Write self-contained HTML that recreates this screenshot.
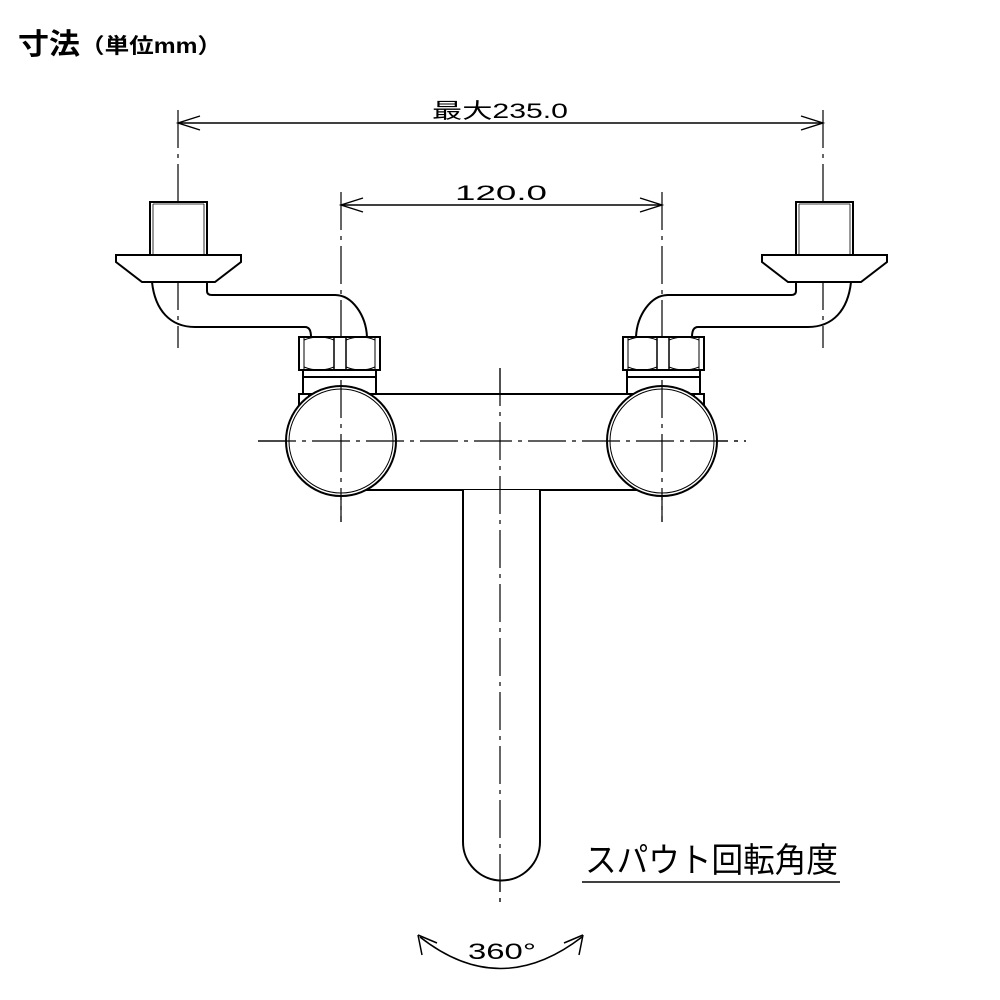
<!DOCTYPE html>
<html><head><meta charset="utf-8"><style>
html,body{margin:0;padding:0;background:#fff;width:1000px;height:1000px;overflow:hidden}
</style></head><body>
<svg width="1000" height="1000" viewBox="0 0 1000 1000" xmlns="http://www.w3.org/2000/svg" style="font-family:'Liberation Sans','Noto Sans CJK JP',sans-serif">
<text x="18" y="54" font-size="29" font-weight="bold" fill="#000" textLength="62" lengthAdjust="spacingAndGlyphs">寸法</text>
<text x="80" y="53" font-size="21" font-weight="bold" fill="#000" textLength="142" lengthAdjust="spacingAndGlyphs">（単位mm）</text>

<g fill="none" stroke="#000" stroke-width="1.4">
<line x1="178" y1="123" x2="823" y2="123"/>
<path d="M200 116 L178 123 L200 130 M801 116 L823 123 L801 130"/>
<line x1="341" y1="205" x2="662" y2="205"/>
<path d="M363 198 L341 205 L363 212 M640 198 L662 205 L640 212"/>
</g>
<text x="432" y="118" font-size="21" textLength="136" lengthAdjust="spacingAndGlyphs" fill="#000">最大235.0</text>
<text x="455" y="200" font-size="21" textLength="92" lengthAdjust="spacingAndGlyphs" fill="#000">120.0</text>

<g stroke="#000" stroke-width="1.2" stroke-dasharray="38,6,4,6" fill="none">
<line x1="178" y1="110" x2="178" y2="348"/>
<line x1="823" y1="110" x2="823" y2="348"/>
<line x1="341" y1="192" x2="341" y2="522"/>
<line x1="662" y1="192" x2="662" y2="522"/>
<line x1="258" y1="441" x2="746" y2="441"/>
<line x1="500" y1="368" x2="500" y2="908"/>
</g>

<g id="fx" fill="none" stroke="#000" stroke-width="2">
<rect x="150" y="202" width="57" height="53" fill="#fff"/>
<line x1="153" y1="204" x2="204" y2="204" stroke-width="0.8"/>
<line x1="153" y1="204" x2="153" y2="255" stroke-width="0.8"/>
<line x1="204" y1="204" x2="204" y2="255" stroke-width="0.8"/>
<path d="M116 255 L241 255 L241 262 L215 282 L142 282 L116 262 Z" fill="#fff"/>
<path d="M152 282 C155 310 170 327 195 327 L305 327 Q311 327 311 337"/>
<path d="M207 282 L207 291 Q207 295 212 295 L335 295 C352 295 366 315 367 337"/>
<rect x="299" y="337" width="81" height="33" fill="#fff"/>
<path d="M304 337 L304 370 M375 337 L375 370" stroke-width="1"/>
<path d="M334 337 L334 370 M346 337 L346 370" stroke-width="1.5"/>
<path d="M304 340 Q319 334 334 340 M346 340 Q361 334 375 340 M304 367 Q319 373 334 367 M346 367 Q361 373 375 367" stroke-width="1"/>
<rect x="303" y="370" width="73" height="7" fill="#fff"/>
<rect x="303" y="377" width="73" height="17" fill="#fff"/>
<rect x="299" y="394" width="10" height="20" fill="#fff"/>
</g>
<use href="#fx" transform="translate(1003,0) scale(-1,1)"/>

<g fill="none" stroke="#000" stroke-width="2">
<rect x="330" y="394" width="343" height="96" fill="#fff"/>
<circle cx="341" cy="441" r="55" fill="#fff"/>
<circle cx="341" cy="441" r="52" stroke-width="1"/>
<circle cx="662" cy="441" r="55" fill="#fff"/>
<circle cx="662" cy="441" r="52" stroke-width="1"/>
<path d="M463 490 L463 842 A38.5 38.5 0 0 0 540 842 L540 490" fill="#fff"/>
</g>
<g stroke="#000" stroke-width="1.2" stroke-dasharray="38,6,4,6" fill="none">
<line x1="258" y1="441" x2="746" y2="441"/>
<line x1="500" y1="368" x2="500" y2="908"/>
<line x1="341" y1="380" x2="341" y2="522"/>
<line x1="662" y1="380" x2="662" y2="522"/>
</g>

<text x="585" y="872" font-size="34" textLength="253" lengthAdjust="spacingAndGlyphs" fill="#000">スパウト回転角度</text>
<line x1="582" y1="882" x2="840" y2="882" stroke="#000" stroke-width="1.5"/>

<g fill="none" stroke="#000" stroke-width="1.5">
<path d="M420 937 Q500 1000 582 937"/>
<path d="M418 935 L422 955 M418 935 L437 943 M583 935 L579 955 M583 935 L564 943"/>
</g>
<text x="468" y="959" font-size="22" textLength="68" lengthAdjust="spacingAndGlyphs" fill="#000">360°</text>
</svg>
</body></html>
